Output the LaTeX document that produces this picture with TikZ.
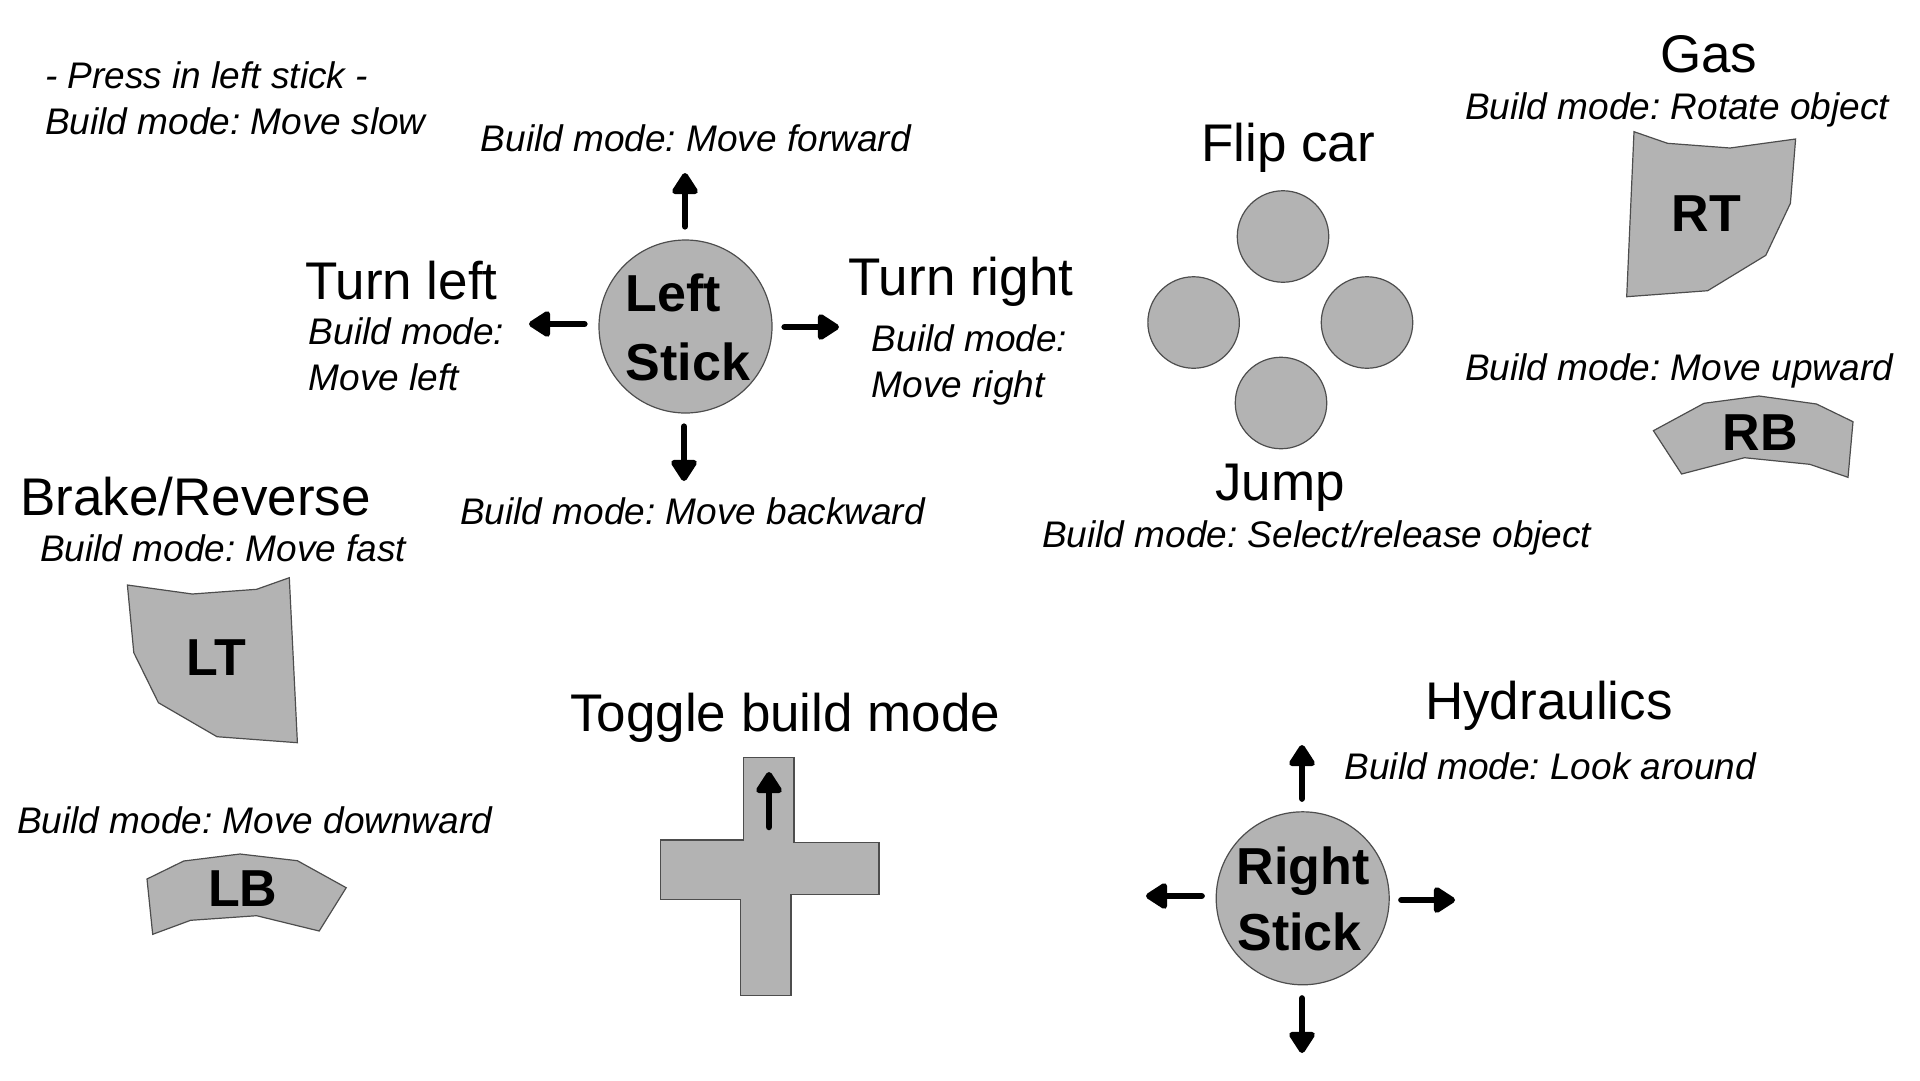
\documentclass[tikz,border=0pt]{standalone}
\usepackage{fontspec}
\setmainfont{Liberation Sans}
\usetikzlibrary{arrows.meta}
\definecolor{padgray}{HTML}{B3B3B3}
\definecolor{edgegray}{HTML}{4D4D4D}
\frenchspacing
\begin{document}
\begin{tikzpicture}[x=1pt,y=-1pt,
  maintext/.style={font=\fontsize{53}{60}\selectfont, anchor=base west, inner sep=0pt},
  modetext/.style={font=\fontsize{37}{44}\selectfont\itshape, anchor=base west, inner sep=0pt},
  btntext/.style={font=\fontsize{52}{60}\selectfont\bfseries, anchor=base west, inner sep=0pt},
  pad/.style={fill=padgray, draw=edgegray, line width=1.2pt},
  stickarrow/.style={line width=6.5pt, line cap=round, -{Triangle[length=24pt,width=29pt,round]}}]
\useasboundingbox (0,0) rectangle (1920,1080);

% ---------- texts ----------
\node[modetext] (presstxt) at (45,88.3) {- Press in left stick -};
\node[modetext] (slowtxt) at (45,134.3) {Build mode: Move slow};
\node[modetext] (fwdtxt) at (480.7,151.7) {Build mode: Move forward};
\node[maintext] (tltxt) at (305,299.3) {Turn left};
\node[modetext] (tlbm1) at (308.6,344) {Build mode:};
\node[modetext] (tlbm2) at (308.6,390) {Move left};
\node[maintext] (trtxt) at (848.3,295) {Turn right};
\node[modetext] (trbm1) at (871.7,351.7) {Build mode:};
\node[modetext] (trbm2) at (871.7,397.5) {Move right};
\node[modetext] (bwdtxt) at (460,524) {Build mode: Move backward};
\node[maintext] (braketxt) at (20,515) {Brake/Reverse};
\node[modetext] (fasttxt) at (40,561) {Build mode: Move fast};
\node[modetext] (downtxt) at (17,833) {Build mode: Move downward};
\node[maintext] (toggletxt) at (570,731.7) {Toggle build mode};
\node[maintext] (fliptxt) at (1201,161) {Flip car};
\node[maintext] (jumptxt) at (1215,500) {Jump};
\node[modetext] (seltxt) at (1042,547.5) {Build mode: Select/release object};
\node[maintext] (gastxt) at (1660,72.3) {Gas};
\node[modetext] (rottxt) at (1465,119) {Build mode: Rotate object};
\node[modetext] (uptxt) at (1465,380) {Build mode: Move upward};
\node[maintext] (hydtxt) at (1425,719.5) {Hydraulics};
\node[modetext] (looktxt) at (1344.5,779) {Build mode: Look around};

% ---------- left stick ----------
\node[pad, circle, minimum size=173pt, inner sep=0pt] (lstick) at (685.5,326.5) {};
\node[btntext] (lsl1) at (625.7,311.7) {Left};
\node[btntext] (lsl2) at (625.7,380) {Stick};
\coordinate (lsU) at (685,173);
\coordinate (lsL) at (529,324);
\coordinate (lsR) at (839,327);
\coordinate (lsD) at (684,481);
\draw[stickarrow, shorten <=13pt] (lstick.north -| lsU) -- (lsU);
\draw[stickarrow, shorten <=14pt] (lstick.west |- lsL) -- (lsL);
\draw[stickarrow, shorten <=12pt] (lstick.east |- lsR) -- (lsR);
\draw[stickarrow, shorten <=13pt] (lstick.south -| lsD) -- (lsD);

% ---------- right stick ----------
\node[pad, circle, minimum size=173pt, inner sep=0pt] (rstick) at (1302.7,898.3) {};
\node[btntext] (rsl1) at (1236.7,884) {Right};
\node[btntext] (rsl2) at (1237.3,950.7) {Stick};
\coordinate (rsU) at (1302,745);
\coordinate (rsL) at (1146,896);
\coordinate (rsR) at (1455,900);
\coordinate (rsD) at (1302,1053);
\draw[stickarrow, shorten <=12.6pt] (rstick.north -| rsU) -- (rsU);
\draw[stickarrow, shorten <=14pt] (rstick.west |- rsL) -- (rsL);
\draw[stickarrow, shorten <=11.6pt] (rstick.east |- rsR) -- (rsR);
\draw[stickarrow, shorten <=13pt] (rstick.south -| rsD) -- (rsD);

% ---------- face buttons ----------
\node[pad, circle, minimum size=91.5pt, inner sep=0pt] (btntop) at (1283,236.5) {};
\node[pad, circle, minimum size=91.5pt, inner sep=0pt] (btnleft) at (1193.6,322.5) {};
\node[pad, circle, minimum size=91.5pt, inner sep=0pt] (btnright) at (1367,322.5) {};
\node[pad, circle, minimum size=91.5pt, inner sep=0pt] (btnbottom) at (1281,403) {};

% ---------- triggers and bumpers ----------
\draw[pad] (1634,131.7) -- (1667.5,143.3) -- (1730,148) -- (1795.6,139) -- (1790.4,203.3)
  -- (1765.8,255.3) -- (1707.7,290.7) -- (1626.7,296.7) -- cycle;
\node[btntext] (rttxt) at (1671.7,231.7) {RT};

\draw[pad] (1704,403.3) -- (1759,396) -- (1816.5,404) -- (1853,421.7) -- (1848,477.3)
  -- (1809.7,464.3) -- (1744.4,457.7) -- (1681.6,474) -- (1653.4,430.7) -- cycle;
\node[btntext] (rbtxt) at (1722.4,450) {RB};

\draw[pad] (127.4,585) -- (192.3,594) -- (256.6,589.3) -- (289.3,577.7) -- (297.4,742.7)
  -- (217,736.7) -- (158.4,702.7) -- (133.8,652.7) -- cycle;
\node[btntext] (lttxt) at (186.6,675) {LT};

\draw[pad] (147,879) -- (183.7,861) -- (240,854) -- (297.4,860.7) -- (346.2,887.7)
  -- (319.2,931) -- (256.6,915.7) -- (190.6,920.3) -- (152.7,934.3) -- cycle;
\node[btntext] (lbtxt) at (207.8,906.7) {LB};

% ---------- d-pad ----------
\draw[pad] (743.4,757.3) -- (794,757.3) -- (794,842.3) -- (878.9,842.3) -- (878.9,894.3)
  -- (791,894.3) -- (791,995.7) -- (740.5,995.7) -- (740.5,899.3) -- (660.7,899.3)
  -- (660.7,840) -- (743.4,840) -- cycle;
\coordinate (dpU0) at (769,827);
\coordinate (dpU) at (769,772);
\draw[stickarrow] (dpU0) -- (dpU);
\end{tikzpicture}
\end{document}
